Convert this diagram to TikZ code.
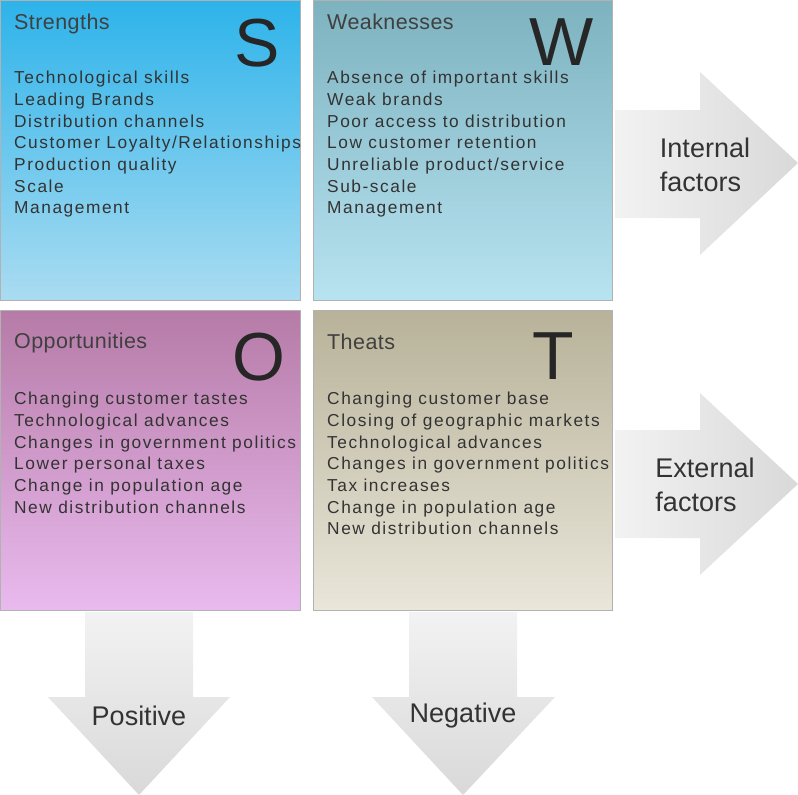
\documentclass[tikz,border=0pt]{standalone}
\usepackage{fontspec}
\setmainfont{Liberation Sans}
\begin{document}
\begin{tikzpicture}[x=1pt,y=-1pt,
 box/.style={draw=gray!60,line width=0.8pt},
 ttl/.style={anchor=north west,font=\fontsize{21.5}{24}\selectfont\addfontfeature{LetterSpace=2},text=black!75,inner sep=0},
 big/.style={anchor=north east,font=\fontsize{68}{68}\selectfont,text=black!85,inner sep=0},
 lst/.style={anchor=north west,font=\fontsize{17.3}{21.7}\selectfont\addfontfeature{LetterSpace=9},text=black!80,inner sep=0,align=left},
 arr/.style={draw=none},
 alab/.style={font=\fontsize{27}{34}\selectfont,text=black!80,align=left}]
\useasboundingbox (0,0) rectangle (798,795);
\definecolor{sT}{HTML}{2DB3EA}\definecolor{sB}{HTML}{AADCF1}
\definecolor{wT}{HTML}{7DB2BF}\definecolor{wB}{HTML}{B8E3F1}
\definecolor{oT}{HTML}{B67BA7}\definecolor{oB}{HTML}{E9BAEE}
\definecolor{tT}{HTML}{B8B299}\definecolor{tB}{HTML}{E9E6DA}
% arrows
\path[arr,left color=white!90!gray,right color=black!15] (615,110) -- (700,110) -- (700,72) -- (798,163) -- (700,255) -- (700,218) -- (615,218) -- cycle;
\path[arr,left color=white!90!gray,right color=black!15] (615,430) -- (700,430) -- (700,393) -- (798,484) -- (700,575) -- (700,538) -- (615,538) -- cycle;
\path[arr,top color=white!90!gray,bottom color=black!15] (85,612) -- (193,612) -- (193,697) -- (230,697) -- (139,795) -- (48,697) -- (85,697) -- cycle;
\path[arr,top color=white!90!gray,bottom color=black!15] (409,612) -- (517,612) -- (517,697) -- (555,697) -- (463,795) -- (372,697) -- (409,697) -- cycle;
\node[alab] (ia) at (705,165) {Internal\\factors};
\node[alab] (ea) at (705,485) {External\\factors};
\node[alab] (pa) at (139,716) {Positive};
\node[alab] (na) at (463,716) {Negative};
% boxes
\path[box,top color=sT,bottom color=sB] (0,0) rectangle (300,300);
\path[box,top color=wT,bottom color=wB] (313,0) rectangle (612,300);
\path[box,top color=oT,bottom color=oB] (0,310) rectangle (300,610);
\path[box,top color=tT,bottom color=tB] (313,310) rectangle (612,610);
\node[ttl] (st) at (14,14) {Strengths};
\node[big] (sl) at (280,19) {S};
\node[lst] (sx) at (14,71) {Technological skills\\Leading Brands\\Distribution channels\\Customer Loyalty/Relationships\\Production quality\\Scale\\Management};
\node[ttl] (wt) at (327,14) {Weaknesses};
\node[big] (wl) at (594,19) {W};
\node[lst] (wx) at (327,71) {Absence of important skills\\Weak brands\\Poor access to distribution\\Low customer retention\\Unreliable product/service\\Sub-scale\\Management};
\node[ttl] (ot) at (14,333) {Opportunities};
\node[big] (ol) at (286,333) {O};
\node[lst] (ox) at (14,392) {Changing customer tastes\\Technological advances\\Changes in government politics\\Lower personal taxes\\Change in population age\\New distribution channels};
\node[ttl] (tt) at (327,334) {Theats};
\node[big] (tl) at (574,333) {T};
\node[lst] (tx) at (327,392) {Changing customer base\\Closing of geographic markets\\Technological advances\\Changes in government politics\\Tax increases\\Change in population age\\New distribution channels};
\end{tikzpicture}
\end{document}
